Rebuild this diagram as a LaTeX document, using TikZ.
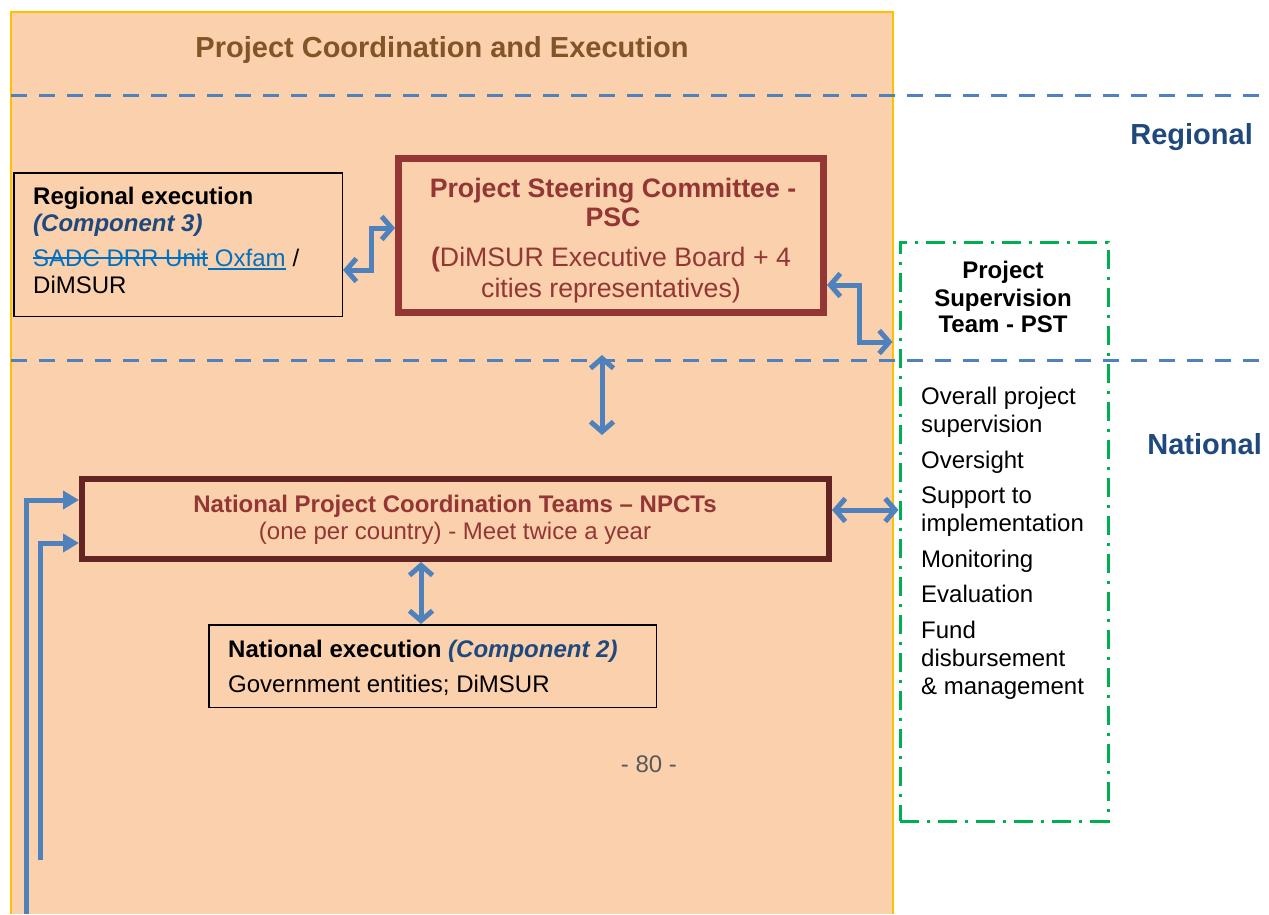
\documentclass[tikz,border=0pt]{standalone}
\usepackage{fontspec}
\setmainfont{Liberation Sans}
\usetikzlibrary{arrows.meta}
\definecolor{peach}{HTML}{FAD0AD}
\definecolor{gold}{HTML}{FFC000}
\definecolor{titlebrown}{HTML}{835427}
\definecolor{pscred}{HTML}{943634}
\definecolor{npctbrown}{HTML}{632523}
\definecolor{arrblue}{HTML}{4F81BD}
\definecolor{darkblue}{HTML}{1F497D}
\definecolor{linkblue}{HTML}{0070C0}
\definecolor{pstgreen}{HTML}{00B050}
\definecolor{pagegray}{HTML}{595959}
\newcommand\fsz[1]{\fontsize{#1}{#1}\selectfont}
\tikzset{
  txt/.style={inner sep=0pt, anchor=base west},
  ctxt/.style={inner sep=0pt, anchor=base},
  lvl/.style={dash pattern=on 16pt off 12pt, line width=3pt, arrblue},
  dbl/.style={{Straight Barb[length=10pt,width=23pt]}-{Straight Barb[length=10pt,width=23pt]}, line width=5pt, arrblue},
  arr/.style={-{Triangle[length=16pt,width=18pt]}, line width=5pt, arrblue},
  blackbox/.style={draw=black, line width=1.5pt, inner sep=0pt},
  markline/.style={linkblue, line width=1.6pt},
}
\begin{document}
\begin{tikzpicture}[x=1pt,y=-1pt]
\useasboundingbox (0,0) rectangle (1269,914);
% panel
\fill[peach] (11,12) rectangle (893,914);
\draw[gold, line width=2pt] (11,914) -- (11,12) -- (893,12) -- (893,914);
\node[ctxt, font=\fsz{29}\bfseries, text=titlebrown] (title) at (442,57) {Project Coordination and Execution};
% level lines
\draw[lvl] (11,95) -- (1269,95);
\draw[lvl] (11,360) -- (1269,360);
\node[inner sep=0pt, anchor=base east, font=\fsz{29}\bfseries, text=darkblue] (regional) at (1253,144) {Regional};
\node[inner sep=0pt, anchor=base east, font=\fsz{29}\bfseries, text=darkblue] (national) at (1262,454) {National};
% boxes
\node[blackbox, minimum width=328.5pt, minimum height=143.5pt] (reg) at (178,244.5) {};
\node[draw=pscred, line width=7pt, inner sep=0pt, minimum width=425pt, minimum height=154pt] (psc) at (611,235.5) {};
\node[draw=pstgreen, line width=3pt, dash pattern=on 19pt off 8pt on 3pt off 8pt, inner sep=0pt, minimum width=208pt, minimum height=579pt] (pst) at (1004,531.5) {};
\node[draw=npctbrown, line width=6pt, inner sep=0pt, minimum width=747pt, minimum height=80pt] (npct) at (455.5,519) {};
\node[blackbox, minimum width=447.5pt, minimum height=82.5pt] (natexec) at (432.5,666) {};
% texts: regional execution
\node[txt, font=\fsz{24}\bfseries] (r1) at (33,204) {Regional execution};
\node[txt, font=\fsz{24}\bfseries\itshape, text=darkblue] (r2) at (33,231) {(Component 3)};
\node[txt, font=\fsz{24}, text=linkblue] (r3a) at (33,266) {SADC DRR Unit};
\node[txt, font=\fsz{24}, text=linkblue] (r3b) at ([xshift=6.67pt]r3a.base east) {Oxfam};
\node[txt, font=\fsz{24}] (r3c) at ([xshift=6.67pt]r3b.base east) {/};
\draw[markline] ([yshift=8pt]r3a.base west) -- ([yshift=8pt]r3a.base east);
\draw[markline] ([yshift=-3pt]r3a.base east) -- ([yshift=-3pt]r3b.base east);
\node[txt, font=\fsz{24}] (r4) at (33,293) {DiMSUR};
% PSC
\node[ctxt, font=\fsz{26.7}\bfseries, text=pscred] (p1) at (613,197.5) {Project Steering Committee -};
\node[ctxt, font=\fsz{26.7}\bfseries, text=pscred] (p2) at (613,226.5) {PSC};
\node[ctxt, font=\fsz{26.7}, text=pscred] (p3) at (611,266) {\textbf{(}DiMSUR Executive Board + 4};
\node[ctxt, font=\fsz{26.7}, text=pscred] (p4) at (611,297) {cities representatives)};
% PST
\node[ctxt, font=\fsz{24}\bfseries] (t1) at (1003,278) {Project};
\node[ctxt, font=\fsz{24}\bfseries] (t2) at (1003,306) {Supervision};
\node[ctxt, font=\fsz{24}\bfseries] (t3) at (1003,332) {Team - PST};
\node[txt, font=\fsz{24}] (l1) at (921,404) {Overall project};
\node[txt, font=\fsz{24}] (l2) at (921,432) {supervision};
\node[txt, font=\fsz{24}] (l3) at (921,468) {Oversight};
\node[txt, font=\fsz{24}] (l4) at (921,503) {Support to};
\node[txt, font=\fsz{24}] (l5) at (921,531) {implementation};
\node[txt, font=\fsz{24}] (l6) at (921,567) {Monitoring};
\node[txt, font=\fsz{24}] (l7) at (921,602) {Evaluation};
\node[txt, font=\fsz{24}] (l8) at (921,638) {Fund};
\node[txt, font=\fsz{24}] (l9) at (921,666) {disbursement};
\node[txt, font=\fsz{24}] (l10) at (921,694) {\& management};
% NPCT
\node[ctxt, font=\fsz{24}\bfseries, text=pscred] (n1) at (455,512) {National Project Coordination Teams – NPCTs};
\node[ctxt, font=\fsz{24}, text=pscred] (n2) at (455,539) {(one per country) - Meet twice a year};
% national execution
\node[txt, font=\fsz{24}\bfseries] (e1) at (228,657) {National execution \textcolor{darkblue}{\itshape(Component 2)}};
\node[txt, font=\fsz{24}] (e2) at (228,692) {Government entities; DiMSUR};
\node[ctxt, font=\fsz{24}, text=pagegray] (page) at (649,772) {- 80 -};
% connectors
\draw[dbl] ([yshift=7.5pt]psc.west) -- ++(-24,0) |- ([yshift=-25.5pt]reg.east);
\draw[dbl, shorten >=6pt] ([yshift=-49.5pt]psc.east) -- ++(32,0) |- (pst.west |- 0,342);
\draw[dbl, shorten <=39pt, shorten >=41pt] ([xshift=-9pt]psc.south) -- ([xshift=-9pt]psc.south |- npct.north);
\draw[dbl] ([yshift=9pt]npct.east) -- ([yshift=9pt]npct.east -| pst.west);
\draw[dbl] ([xshift=-11.5pt]natexec.north) -- ([xshift=-11.5pt]natexec.north |- npct.south);
\coordinate (s1) at (26,914);
\coordinate (s2) at (40,860);
\draw[arr] (s1) |- ([yshift=19pt]npct.west);
\draw[arr] (s2) |- ([yshift=-24pt]npct.west);
\end{tikzpicture}
\end{document}
